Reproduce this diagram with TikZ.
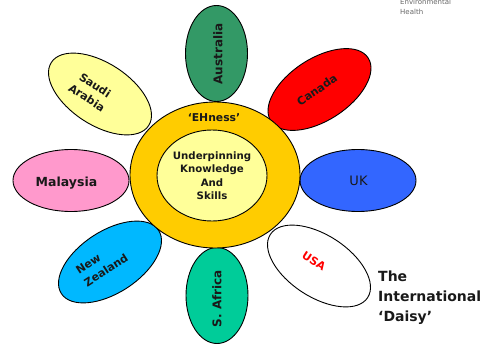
\documentclass[tikz,border=0pt]{standalone}
\usepackage{fontspec}
\setmainfont{DejaVu Sans}
\usetikzlibrary{shapes.geometric}
\definecolor{petalgreen}{HTML}{339966}
\definecolor{petalteal}{HTML}{00CC99}
\definecolor{petalblue}{HTML}{3366FF}
\definecolor{petalsky}{HTML}{00B8FF}
\definecolor{petalpink}{HTML}{FF99CC}
\definecolor{petalyellow}{HTML}{FFFF99}
\definecolor{ringorange}{HTML}{FFCC00}
\begin{document}
\begin{tikzpicture}[x=1pt, y=-1pt]
	\tikzstyle{petal} = [ellipse, draw=black, line width=0.9pt, inner sep=0pt, minimum width=116pt, minimum height=62pt]
	\tikzstyle{uprightpetal} = [ellipse, draw=black, line width=0.9pt, inner sep=0pt, minimum width=62pt, minimum height=96pt]
	\tikzstyle{petaltext} = [font=\fontsize{12}{13}\selectfont\bfseries, align=center, inner sep=0pt, text=black!90]
	\tikzstyle{slanttext} = [petaltext, font=\fontsize{11}{15}\selectfont\bfseries]
	\useasboundingbox (0, 0) rectangle (492, 345);
	
	\node[uprightpetal, fill=petalgreen] (australia) at (216.5, 53.5) {};
	\node[uprightpetal, fill=petalteal] (safrica) at (217, 295.5) {};
	\node[petal, fill=red, rotate=33] (canada) at (319.5, 89.5) {};
	\node[petal, fill=petalblue] (uk) at (358, 180.5) {};
	\node[petal, fill=white, rotate=-33] (usa) at (319, 266) {};
	\node[petal, fill=petalsky, rotate=33] (newzealand) at (110, 262) {};
	\node[petal, fill=petalpink] (malaysia) at (71, 180.5) {};
	\node[petal, fill=petalyellow, rotate=-33] (saudi) at (100, 94) {};
	
	\node[ellipse, draw=black, line width=0.9pt, fill=ringorange, minimum width=170pt, minimum height=146pt, inner sep=0pt] (ehness) at (215, 175) {};
	\node[ellipse, draw=black, line width=0.9pt, fill=petalyellow, minimum width=110pt, minimum height=91pt, inner sep=0pt] (core) at (212, 175.5) {};
	
	\node[petaltext, font=\fontsize{10.8}{13}\selectfont\bfseries] (ehnesslabel) at (214, 118) {‘EHness’};
	\node[petaltext, font=\fontsize{10.2}{13.4}\selectfont\bfseries] (corelabel) at (212, 175.5) {Underpinning\\Knowledge\\And\\Skills};
	
	\node[petaltext, rotate=90] (australialabel) at (218, 54) {Australia};
	\node[petaltext, rotate=90] (safricalabel) at (217, 298.5) {S. Africa};
	\node[slanttext, rotate=35] (canadalabel) at (317, 90) {Canada};
	\node[petaltext, font=\fontsize{13}{13}\selectfont] (uklabel) at (358.5, 180.5) {UK};
	\node[slanttext, rotate=-33, text=red] (usalabel) at (314, 261) {USA};
	\node[slanttext, rotate=33, align=left] (newzealandlabel) at (102, 264) {New\\Zealand};
	\node[petaltext, font=\fontsize{12.5}{13}\selectfont\bfseries] (malaysialabel) at (66.5, 183.5) {Malaysia};
	\node[slanttext, rotate=-33] (saudilabel) at (91, 91.5) {Saudi\\Arabia};
	
	\node[petaltext, font=\fontsize{14}{20}\selectfont\bfseries, align=left, anchor=north west] (daisy) at (378, 271) {The\\International\\‘Daisy’};
	\node[inner sep=0pt, anchor=north west, align=left, text=black!60, font=\fontsize{7}{10}\selectfont] (source) at (400, -1) {Environmental\\Health};
\end{tikzpicture}
\end{document}
